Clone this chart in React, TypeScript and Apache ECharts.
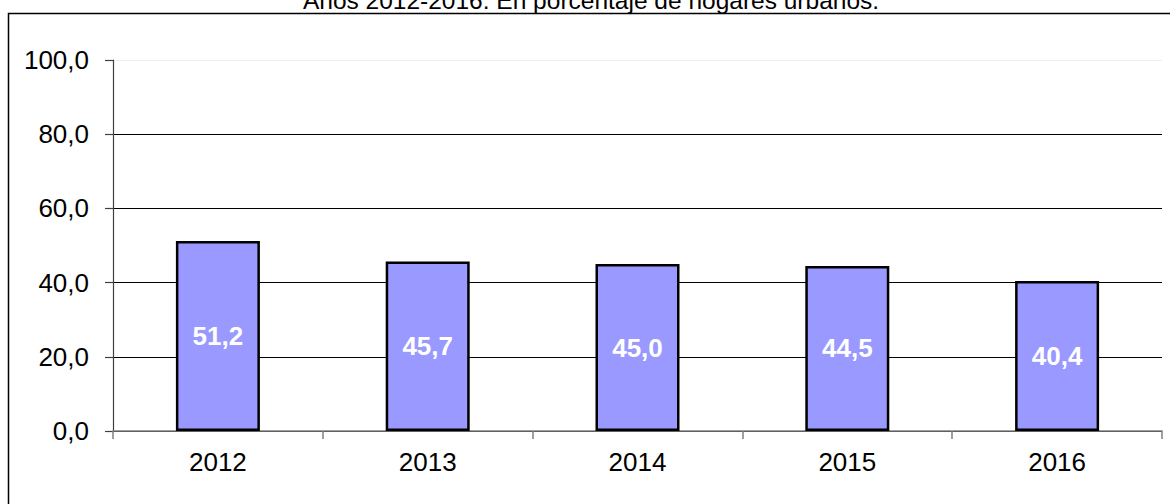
import React, { useEffect, useRef } from "react";
import * as echarts from "echarts";

const titleText = "Años 2012-2016. En porcentaje de hogares urbanos.";
const years = ["2012", "2013", "2014", "2015", "2016"];
const values = [51.2, 45.7, 45.0, 44.5, 40.4];

const fmt = (v: number) => v.toFixed(1).replace(".", ",");

export default function App() {
  const ref = useRef<HTMLDivElement>(null);
  useEffect(() => {
    if (!ref.current) return;
    const chart = echarts.init(ref.current, undefined, { renderer: "svg" });
    chart.setOption({
      animation: false,
      backgroundColor: "#fff",
      textStyle: { fontFamily: "Liberation Sans, Arial, sans-serif" },
      graphic: [
        {
          type: "rect",
          shape: { x: 8.5, y: 13.5, width: 1170, height: 600 },
          style: { fill: "none", stroke: "#000", lineWidth: 1.5 },
          silent: true,
        },
        {
          type: "text",
          x: 591,
          y: 0,
          style: {
            text: titleText,
            fontSize: 24.5,
            fontFamily: "Liberation Sans, Arial, sans-serif",
            fill: "#000",
            align: "center",
            verticalAlign: "middle",
          },
          silent: true,
        },
      ],
      grid: { left: 113, right: 8, top: 60, bottom: 73, containLabel: false },
      xAxis: {
        type: "category",
        data: years,
        axisLine: { lineStyle: { color: "#808080", width: 1.5 } },
        axisTick: { show: true, alignWithLabel: false, length: 8, lineStyle: { color: "#808080", width: 1.5 } },
        axisLabel: { color: "#000", fontSize: 26, margin: 18 },
        splitLine: { show: false },
      },
      yAxis: {
        type: "value",
        min: 0,
        max: 100,
        interval: 20,
        axisLine: { show: true, lineStyle: { color: "#404040", width: 1.2 } },
        axisTick: { show: true, inside: false, length: 8, lineStyle: { color: "#404040", width: 1.2 } },
        axisLabel: { color: "#000", fontSize: 26, margin: 24, formatter: (v: number) => fmt(v) },
        splitLine: {
          show: true,
          lineStyle: { color: ["#000", "#000", "#000", "#000", "#000", "#eeeeee"], width: 1 },
        },
      },
      series: [
        {
          type: "bar",
          data: values,
          barWidth: 84,
          itemStyle: { color: "#9999FF", borderColor: "#000", borderWidth: 2.5 },
          label: {
            show: true,
            position: "inside",
            color: "#fff",
            fontWeight: "bold",
            fontSize: 26,
            formatter: (p: any) => fmt(p.value),
          },
        },
      ],
    });
    return () => chart.dispose();
  }, []);
  return (
    <div
      ref={ref}
      style={{ position: "fixed", left: 0, top: 0, width: 1170, height: 504 }}
    />
  );
}
